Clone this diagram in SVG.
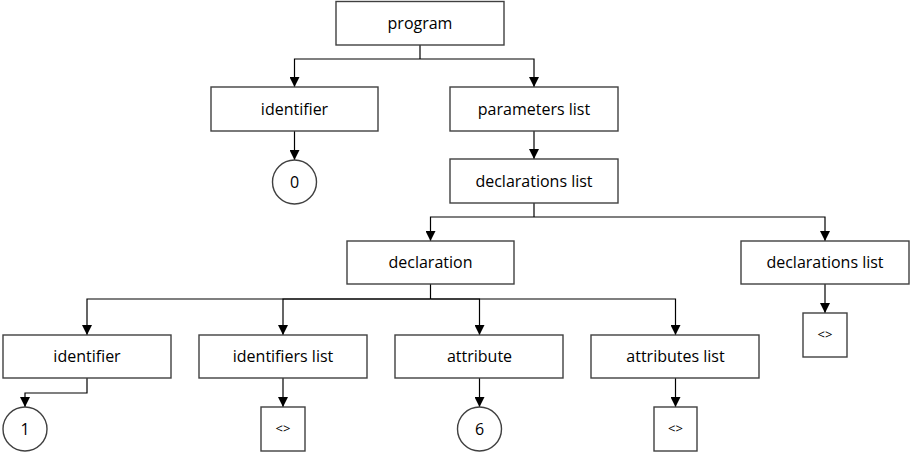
<svg xmlns="http://www.w3.org/2000/svg" width="912" height="452" viewBox="0 0 912 452">
<defs>
<marker id="arr" markerUnits="userSpaceOnUse" markerWidth="10" markerHeight="10" refX="10" refY="5" orient="auto">
<path d="M0,0 L10,5 L0,10 Z" fill="#000"/>
</marker>
<style>
.box{fill:#fff;stroke:#404040;stroke-width:1.4}
.lbl{font-family:"Open Sans","Liberation Sans",sans-serif;font-size:16px;fill:#000;text-anchor:middle}
.sm{font-family:"Open Sans","Liberation Sans",sans-serif;font-size:13px;fill:#000;text-anchor:middle}
.con{fill:none;stroke:#000;stroke-width:1.2;marker-end:url(#arr)}
.ln{fill:none;stroke:#000;stroke-width:1.2}
</style>
</defs>
<rect width="912" height="452" fill="#fff"/>
<g id="connectors">
<path class="ln" d="M420,45 V59"/>
<path class="con" d="M420,59 H294.5 V87"/>
<path class="con" d="M420,59 H534 V87"/>
<path class="con" d="M294.5,131 V160"/>
<path class="con" d="M534,131 V159"/>
<path class="ln" d="M534,203 V217"/>
<path class="con" d="M534,217 H430.5 V241"/>
<path class="con" d="M534,217 H825 V241"/>
<path class="ln" d="M430.5,284 V299"/>
<path class="con" d="M430.5,299 H87 V335"/>
<path class="con" d="M430.5,299 H283 V335"/>
<path class="con" d="M430.5,299 H479.5 V335"/>
<path class="con" d="M430.5,299 H675.5 V335"/>
<path class="con" d="M87,378 V393 H25 V407"/>
<path class="con" d="M283,378 V407"/>
<path class="con" d="M479.5,378 V407"/>
<path class="con" d="M675.5,378 V407"/>
<path class="con" d="M825,284 V313"/>
</g>
<g id="program"><rect class="box" x="336" y="1.5" width="168" height="43.5"/><text class="lbl" x="420" y="29">program</text></g>
<g id="identifier0"><rect class="box" x="211" y="87" width="167" height="44"/><text class="lbl" x="294.5" y="115">identifier</text></g>
<g id="parameters_list"><rect class="box" x="450" y="87" width="168" height="44"/><text class="lbl" x="534" y="115">parameters list</text></g>
<g id="zero"><circle class="box" cx="294.5" cy="182" r="22"/><text class="lbl" x="294.5" y="188">0</text></g>
<g id="declarations_list"><rect class="box" x="450" y="159" width="168" height="44"/><text class="lbl" x="534" y="187">declarations list</text></g>
<g id="declaration"><rect class="box" x="347" y="241" width="167" height="43"/><text class="lbl" x="430.5" y="268">declaration</text></g>
<g id="declarations_list2"><rect class="box" x="741" y="241" width="168" height="43"/><text class="lbl" x="825" y="268">declarations list</text></g>
<g id="empty_decl"><rect class="box" x="803" y="313" width="44" height="44"/><text class="sm" x="825" y="339">&lt;&gt;</text></g>
<g id="identifier1"><rect class="box" x="3" y="335" width="168" height="43"/><text class="lbl" x="87" y="362">identifier</text></g>
<g id="identifiers_list"><rect class="box" x="199" y="335" width="168" height="43"/><text class="lbl" x="283" y="362">identifiers list</text></g>
<g id="attribute"><rect class="box" x="395" y="335" width="168" height="43"/><text class="lbl" x="479.5" y="362">attribute</text></g>
<g id="attributes_list"><rect class="box" x="591" y="335" width="168" height="43"/><text class="lbl" x="675.5" y="362">attributes list</text></g>
<g id="one"><circle class="box" cx="25" cy="429" r="22"/><text class="lbl" x="25" y="435">1</text></g>
<g id="empty_ids"><rect class="box" x="261" y="407" width="44" height="44"/><text class="sm" x="283" y="433">&lt;&gt;</text></g>
<g id="six"><circle class="box" cx="479.5" cy="429" r="22"/><text class="lbl" x="479.5" y="435">6</text></g>
<g id="empty_attrs"><rect class="box" x="654" y="407" width="43" height="44"/><text class="sm" x="675.5" y="433">&lt;&gt;</text></g>
</svg>
